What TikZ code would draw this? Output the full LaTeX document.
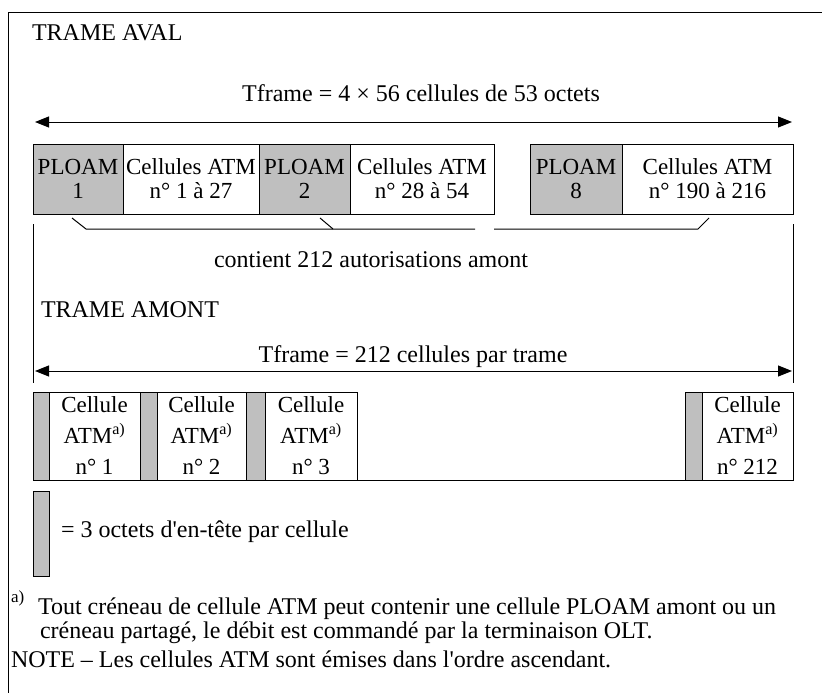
\documentclass[tikz,border=0pt]{standalone}
\usepackage{fontspec}
\newfontfamily\tnr{Liberation Serif}
\usetikzlibrary{arrows.meta}
\begin{document}
\begin{tikzpicture}[x=1pt,y=-1pt,
  every node/.style={font=\tnr\fontsize{24}{24}\selectfont, inner sep=0pt, outer sep=0pt},
  ln/.style={line width=1pt},
  ploambox/.style={draw, line width=1pt, fill=gray!50, minimum height=70pt, align=center, font=\tnr\fontsize{23}{24}\selectfont},
  atmbox/.style={draw, line width=1pt, fill=white, minimum height=70pt, align=center, font=\tnr\fontsize{23}{24}\selectfont},
  hdrbar/.style={draw, line width=1pt, fill=gray!50, minimum height=88pt},
  cellbox/.style={draw, line width=1pt, minimum height=88pt, align=center, font=\tnr\fontsize{23}{31}\selectfont},
  spanarrow/.style={line width=1pt, {Triangle[length=14pt,width=11pt]}-{Triangle[length=14pt,width=11pt]}}
]
\useasboundingbox (0,0) rectangle (822,693);
\draw[ln] (8,693) -- (8,13) -- (822,13);

% TRAME AVAL
\node[anchor=base west] (aval) at (32,41) {TRAME AVAL};
\node[anchor=base] (tf1) at (421,102) {Tframe = 4 × 56 cellules de 53 octets};
\coordinate (a1l) at (35,122);
\coordinate (a1r) at (792,122);
\draw[spanarrow] (a1l) -- (a1r);

\node[ploambox, minimum width=90pt] (p1) at (78,179) {PLOAM\\1};
\node[atmbox, minimum width=136pt] (c1) at (191,179) {Cellules ATM\\n° 1 à 27};
\node[ploambox, minimum width=91pt] (p2) at (304.5,179) {PLOAM\\2};
\node[atmbox, minimum width=144pt] (c2) at (422,179) {Cellules ATM\\n° 28 à 54};
\node[ploambox, minimum width=92pt] (p8) at (576,179) {PLOAM\\8};
\node[atmbox, minimum width=171pt] (c8) at (707.5,179) {Cellules ATM\\n° 190 à 216};

% brace
\draw[ln] (72,218) -- (86,229) -- (475,229);
\draw[ln] (320,218) -- (333,229);
\draw[ln] (494,229) -- (698,229) -- (709,218);
\node[anchor=base] (cont) at (371,267) {contient 212 autorisations amont};

\draw[ln] (33,224) -- (33,383);
\draw[ln] (793,224) -- (793,383);

% TRAME AMONT
\node[anchor=base west] (amont) at (41,317) {TRAME AMONT};
\node[anchor=base] (tf2) at (413,362) {Tframe = 212 cellules par trame};
\coordinate (a2l) at (35,371);
\coordinate (a2r) at (792,371);
\draw[spanarrow] (a2l) -- (a2r);

\node[hdrbar, minimum width=16pt] (h1) at (41,436) {};
\node[cellbox, minimum width=91pt] (u1) at (94.5,436) {Cellule\\ATM\textsuperscript{a)}\\n° 1};
\node[hdrbar, minimum width=17pt] (h2) at (148.5,436) {};
\node[cellbox, minimum width=89pt] (u2) at (201.5,436) {Cellule\\ATM\textsuperscript{a)}\\n° 2};
\node[hdrbar, minimum width=19pt] (h3) at (255.5,436) {};
\node[cellbox, minimum width=92pt] (u3) at (311,436) {Cellule\\ATM\textsuperscript{a)}\\n° 3};
\node[hdrbar, minimum width=17pt] (h212) at (693.5,436) {};
\node[cellbox, minimum width=91pt] (u212) at (747.5,436) {Cellule\\ATM\textsuperscript{a)}\\n° 212};
\draw[ln] (u3.south east) -- (h212.south west);

% legend
\node[hdrbar, minimum width=16pt, minimum height=85pt] (hl) at (41,533.5) {};
\node[anchor=base west] (leg) at (61,537) {= 3 octets d'en-tête par cellule};

% notes
\node[anchor=base west, font=\tnr\fontsize{17}{17}\selectfont] (fa) at (11,602) {a)};
\node[anchor=base west] (f1) at (38,614) {Tout créneau de cellule ATM peut contenir une cellule PLOAM amont ou un};
\node[anchor=base west] (f2) at (40,638) {créneau partagé, le débit est commandé par la terminaison OLT.};
\node[anchor=base west] (note) at (11,667) {NOTE – Les cellules ATM sont émises dans l'ordre ascendant.};
\end{tikzpicture}
\end{document}
